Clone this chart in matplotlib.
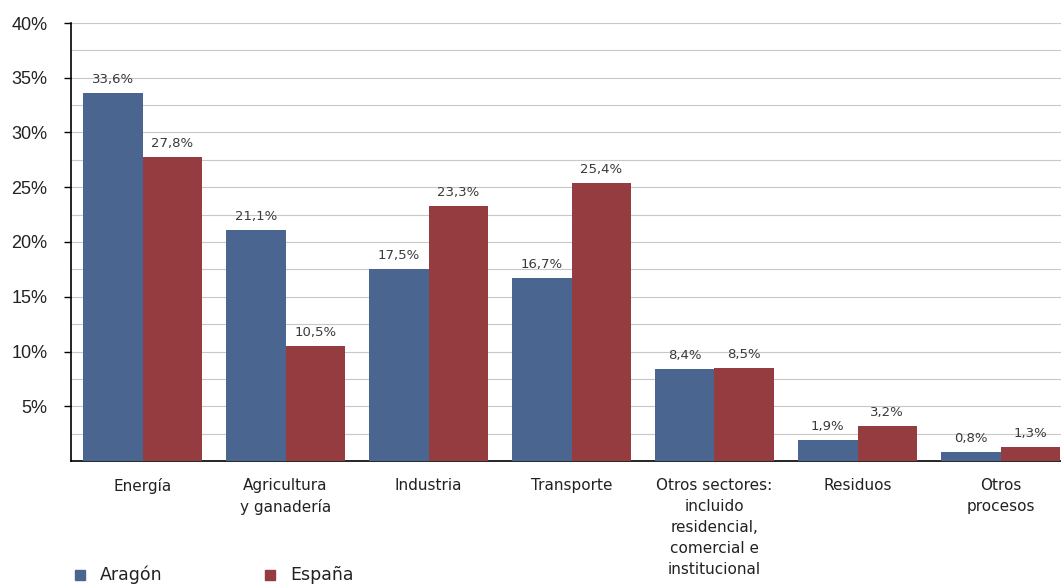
import matplotlib
matplotlib.use("Agg")
import matplotlib.pyplot as plt
import numpy as np
from matplotlib.ticker import MultipleLocator, FuncFormatter

categories = ["Energía", "Agricultura\ny ganadería", "Industria", "Transporte",
              "Otros sectores:\nincluido\nresidencial,\ncomercial e\ninstitucional",
              "Residuos", "Otros\nprocesos"]
aragon = [33.6, 21.1, 17.5, 16.7, 8.4, 1.9, 0.8]
espana = [27.8, 10.5, 23.3, 25.4, 8.5, 3.2, 1.3]
series_names = ["Aragón", "España"]
yticks = [5, 10, 15, 20, 25, 30, 35, 40]

c_ar = "#4b6591"
c_es = "#943c40"

W, H = 1061, 585
fig = plt.figure(figsize=(W/100, H/100), dpi=100)
ax = fig.add_axes([71/W, (H-461)/H, (W-71)/W, 438/H])

x = np.arange(len(categories))
bw = 0.415
b1 = ax.bar(x - bw/2, aragon, bw, color=c_ar, zorder=3)
b2 = ax.bar(x + bw/2, espana, bw, color=c_es, zorder=3)

fmt = lambda v: f"{v:.1f}".replace(".", ",") + "%"
for bars, vals in ((b1, aragon), (b2, espana)):
    for r, v in zip(bars, vals):
        ax.annotate(fmt(v), (r.get_x() + r.get_width()/2, v), xytext=(0, 5),
                    textcoords="offset points", ha="center", va="bottom",
                    fontsize=9.5, color="#3a3a3a", family="DejaVu Sans")

ax.set_ylim(0, 40)
ax.set_xlim(-0.5, -0.5 + (W-71)/143)
ax.set_yticks(yticks)
ax.yaxis.set_major_formatter(FuncFormatter(lambda v, p: f"{int(v)}%"))
ax.yaxis.set_minor_locator(MultipleLocator(2.5))
ax.grid(axis="y", which="both", color="#c8c8c8", linewidth=0.8, zorder=0)
ax.tick_params(axis="y", which="major", length=5, width=1, color="black",
               labelsize=13, pad=12, labelcolor="#222222")
ax.tick_params(axis="y", which="minor", length=0)
for lab in ax.get_yticklabels():
    lab.set_family("Liberation Sans")
ax.set_xticks(x)
ax.set_xticklabels(categories, fontsize=11, color="#222222", linespacing=1.5,
                   va="top")
ax.tick_params(axis="x", length=0, pad=12)
for s in ("top", "right"):
    ax.spines[s].set_visible(False)
ax.spines["left"].set_color("black")
ax.spines["bottom"].set_color("black")
ax.spines["left"].set_linewidth(1.2)
ax.spines["bottom"].set_linewidth(1.2)

# legend
for xpos, name, col in ((75, series_names[0], c_ar), (265, series_names[1], c_es)):
    fig.patches.append(plt.Rectangle((xpos/W, (H-580)/H), 10/W, 10/H,
                                     transform=fig.transFigure, color=col))
    fig.text((xpos+25)/W, (H-575)/H, name, fontsize=12.5, va="center",
             ha="left", color="#222222")

fig.savefig("out.png", dpi=100)
